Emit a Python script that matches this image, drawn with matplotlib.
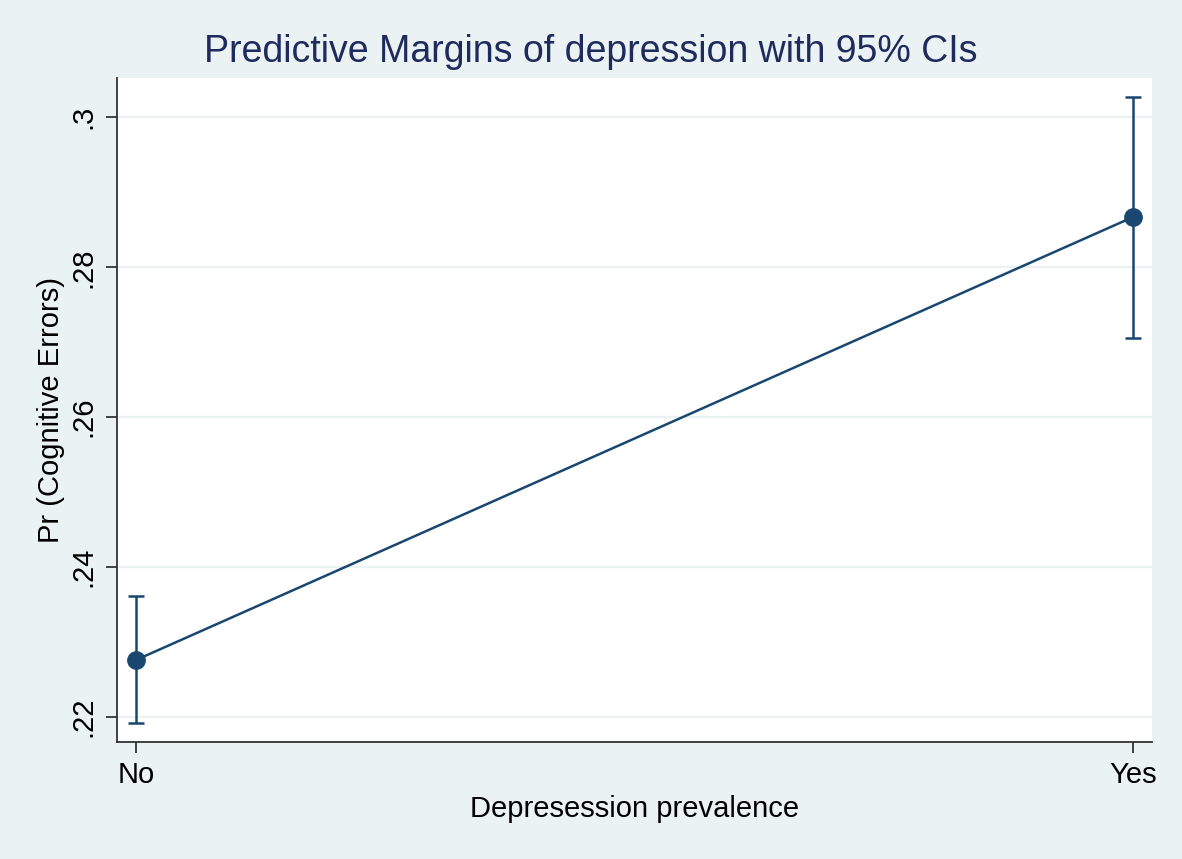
import matplotlib.pyplot as plt

# values
categories = ['No', 'Yes']
margins = [0.2276, 0.2867]
ci_low = [0.2192, 0.2706]
ci_high = [0.2361, 0.3027]
yticks = [0.22, 0.24, 0.26, 0.28, 0.30]
ytick_labels = ['.22', '.24', '.26', '.28', '.3']

navy = '#1a476f'
bg = '#eaf2f3'

plt.rcParams['font.family'] = ['Liberation Sans', 'DejaVu Sans']

fig = plt.figure(figsize=(11.82, 8.59), dpi=100, facecolor=bg)
ax = fig.add_axes([117 / 1182, 1 - 742 / 859, 1035 / 1182, 664 / 859])
ax.set_facecolor('white')

x = list(range(len(categories)))
yerr = [[m - lo for m, lo in zip(margins, ci_low)],
        [hi - m for m, hi in zip(margins, ci_high)]]
ax.errorbar(x, margins, yerr=yerr, fmt='none', ecolor=navy, elinewidth=1.8,
            capsize=5.5, capthick=1.8, zorder=3)
ax.plot(x, margins, color=navy, lw=1.8, marker='o', markersize=12.5,
        markerfacecolor=navy, markeredgecolor=navy, zorder=4)

ax.set_xlim(-0.019, 1.019)
ax.set_ylim(0.21666, 0.30525)
ax.set_xticks(x)
ax.set_xticklabels(categories, fontsize=21)
ax.set_yticks(yticks)
ax.set_yticklabels(ytick_labels, fontsize=21, rotation=90, va='center')
ax.grid(axis='y', color=bg, lw=1.6)
ax.set_axisbelow(True)

for s in ['top', 'right']:
    ax.spines[s].set_visible(False)
for s in ['left', 'bottom']:
    ax.spines[s].set_color('#333333')
    ax.spines[s].set_linewidth(1.3)
ax.tick_params(axis='both', length=8, width=1.3, color='#333333', pad=6)

ax.set_xlabel('Depresession prevalence', fontsize=21, labelpad=4)
ax.set_ylabel('Pr (Cognitive Errors)', fontsize=21, labelpad=3)
fig.suptitle('Predictive Margins of depression with 95% CIs', fontsize=27,
             color='#1e2b5c', x=0.5, y=1 - 52 / 859, va='center')

fig.savefig('out.png', dpi=100, facecolor=bg)
